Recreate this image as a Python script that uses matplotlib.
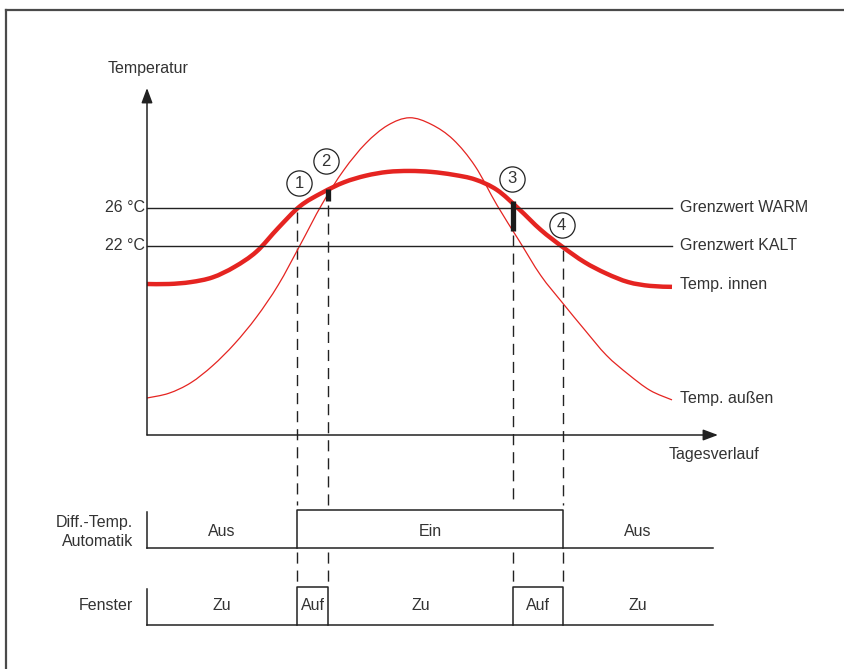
import matplotlib.pyplot as plt
from matplotlib.lines import Line2D
from matplotlib.path import Path
from matplotlib.patches import PathPatch

# Tagesverlauf in Stunden, Temperaturen in °C
hours = list(range(25))
temp_innen = [18.0, 18.0, 18.2, 18.7, 19.8, 21.4, 23.9, 26.2, 27.6, 28.7, 29.4, 29.8, 29.9,
              29.8, 29.5, 29.0, 27.9, 25.9, 23.7, 21.9, 20.3, 19.1, 18.2, 17.8, 17.7]
temp_aussen = [6.0, 6.5, 7.6, 9.4, 11.7, 14.5, 17.9, 22.1, 26.4, 30.0, 32.8, 34.7, 35.5,
               34.8, 33.2, 30.4, 26.3, 22.6, 18.9, 16.0, 13.2, 10.5, 8.5, 6.8, 5.8]
grenz_temps = [26, 22]
grenz_labels = ["Grenzwert WARM", "Grenzwert KALT"]
tick_labels = ["26 °C", "22 °C"]

# Ereignisse 1-4
event_hours = [6.86, 8.27, 16.73, 19.0]
event_temps = [26.0, 26.7, 23.6, 22.0]
event_nums = ["1", "2", "3", "4"]
circle_hours = [6.96, 8.18, 16.7, 18.96]
circle_temps = [28.6, 30.9, 29.1, 24.2]
bar_hours = [8.27, 16.73]
bar_lo = [26.7, 23.6]
bar_hi = [28.0, 26.7]

# Zustände
t_end = 25.87
auto_edges = [0, 6.86, 19.0, t_end]
auto_states = ["Aus", "Ein", "Aus"]
auto_on = [False, True, False]
fenster_edges = [0, 6.86, 8.27, 16.73, 19.0, t_end]
fenster_states = ["Zu", "Auf", "Zu", "Auf", "Zu"]
fenster_on = [False, True, False, True, False]

plt.rcParams['font.family'] = ['Liberation Sans', 'DejaVu Sans']
W, H = 845, 669
RED = '#e52421'
TXT = '#333333'
LN = '#222222'
FS = 11.5

fig = plt.figure(figsize=(W / 100, H / 100), dpi=100)

# Hintergrund-Achse: x in Stunden, y in Pixelzeilen
pxh = 21.875
bg = fig.add_axes([0, 0, 1, 1], zorder=0)
bg.set_xlim(-147 / pxh, (W - 147) / pxh)
bg.set_ylim(H, 0)
bg.axis('off')

# Temperatur-Achse
t_bot = 22 - (435 - 246) / 9.5
t_top = t_bot + 347 / 9.5
ax = fig.add_axes([147 / W, (H - 435) / H, 571 / W, 347 / H], zorder=1)
ax.set_xlim(0, 571 / pxh)
ax.set_ylim(t_bot, t_top)
ax.axis('off')


def smooth_curve(xs, ys, **kw):
    pts = list(zip(xs, ys))
    verts = [pts[0]]
    codes = [Path.MOVETO]
    n = len(pts)
    for i in range(n - 1):
        p0 = pts[max(i - 1, 0)]
        p1 = pts[i]
        p2 = pts[i + 1]
        p3 = pts[min(i + 2, n - 1)]
        c1 = (p1[0] + (p2[0] - p0[0]) / 6, p1[1] + (p2[1] - p0[1]) / 6)
        c2 = (p2[0] - (p3[0] - p1[0]) / 6, p2[1] - (p3[1] - p1[1]) / 6)
        verts += [c1, c2, p2]
        codes += [Path.CURVE4] * 3
    ax.add_patch(PathPatch(Path(verts, codes), fill=False, clip_on=False, **kw))


# Rahmen
fig.add_artist(Line2D([6.5 / W, 1], [1 - 10 / H, 1 - 10 / H], transform=fig.transFigure,
                      color='#4a4a4a', lw=1.6))
fig.add_artist(Line2D([6.5 / W, 6.5 / W], [0, 1 - 10 / H], transform=fig.transFigure,
                      color='#4a4a4a', lw=1.6))

# Achsenpfeile
arrow = dict(arrowstyle='-|>,head_width=0.28,head_length=0.75', color=LN, lw=1.1,
             mutation_scale=12, shrinkA=0, shrinkB=0)
ax.annotate('', xy=(0, t_top), xytext=(0, t_bot), arrowprops=arrow, annotation_clip=False)
ax.annotate('', xy=(571 / pxh, t_bot), xytext=(0, t_bot), arrowprops=arrow, annotation_clip=False)
bg.text(0.05, 68, "Temperatur", ha='center', va='center', fontsize=FS, color=TXT)
bg.text(25.9, 455, "Tagesverlauf", ha='center', va='center', fontsize=FS, color=TXT)

# Grenzwerte
for t, lab, tl in zip(grenz_temps, grenz_labels, tick_labels):
    ax.plot([0, 24], [t, t], color=LN, lw=1.0, clip_on=False)
    ax.text(24.37, t, lab, ha='left', va='center', fontsize=FS, color=TXT, clip_on=False)
    ax.text(-0.1, t, tl, ha='right', va='center', fontsize=FS, color=TXT, clip_on=False)

# Temperaturkurven
smooth_curve(hours, temp_aussen, edgecolor=RED, lw=0.9)
smooth_curve(hours, temp_innen, edgecolor=RED, lw=3.2, capstyle='butt')
ax.text(24.37, temp_innen[-1] + 0.3, "Temp. innen", ha='left', va='center', fontsize=FS,
        color=TXT, clip_on=False)
ax.text(24.37, temp_aussen[-1] + 0.2, "Temp. außen", ha='left', va='center', fontsize=FS,
        color=TXT, clip_on=False)

# Fenster-Balken
ax.vlines(bar_hours, bar_lo, bar_hi, color='#1a1a1a', lw=3.8, zorder=5)

# Markierungen
ax.scatter(circle_hours, circle_temps, s=330, facecolor='white', edgecolor=LN,
           linewidth=0.9, zorder=6, clip_on=False)
for h, t, n in zip(circle_hours, circle_temps, event_nums):
    ax.text(h, t, n, ha='center', va='center', fontsize=12, color=TXT, zorder=7)

# gestrichelte Linien
to_bg = lambda h, t: bg.transData.inverted().transform(ax.transData.transform((h, t)))
for h, t in zip(event_hours, event_temps):
    _, y0 = to_bg(h, t)
    bg.plot([h, h], [y0 + 4, 505], color=LN, lw=1.0, dashes=(8, 5))
    bg.plot([h, h], [552, 587], color=LN, lw=1.0, dashes=(8, 5))

# Zustandszeilen
def state_row(edges, states, on, y_base, y_top, label_y):
    bg.plot([0, edges[-1]], [y_base, y_base], color=LN, lw=1.1)
    bg.plot([0, 0], [y_top + 2, y_base], color=LN, lw=1.1)
    for a, b, s, o in zip(edges[:-1], edges[1:], states, on):
        if o:
            bg.plot([a, a, b, b], [y_base, y_top, y_top, y_base], color=LN, lw=1.1)
        bg.text((a + b) / 2, label_y, s, ha='center', va='center', fontsize=FS, color=TXT)

state_row(auto_edges, auto_states, auto_on, 548, 510, 532)
state_row(fenster_edges, fenster_states, fenster_on, 625, 587, 605)
bg.text(-0.65, 532, "Diff.-Temp.\nAutomatik", ha='right', va='center', fontsize=FS,
        color=TXT, linespacing=1.3)
bg.text(-0.65, 605, "Fenster", ha='right', va='center', fontsize=FS, color=TXT)

fig.savefig("out.png", dpi=100)
